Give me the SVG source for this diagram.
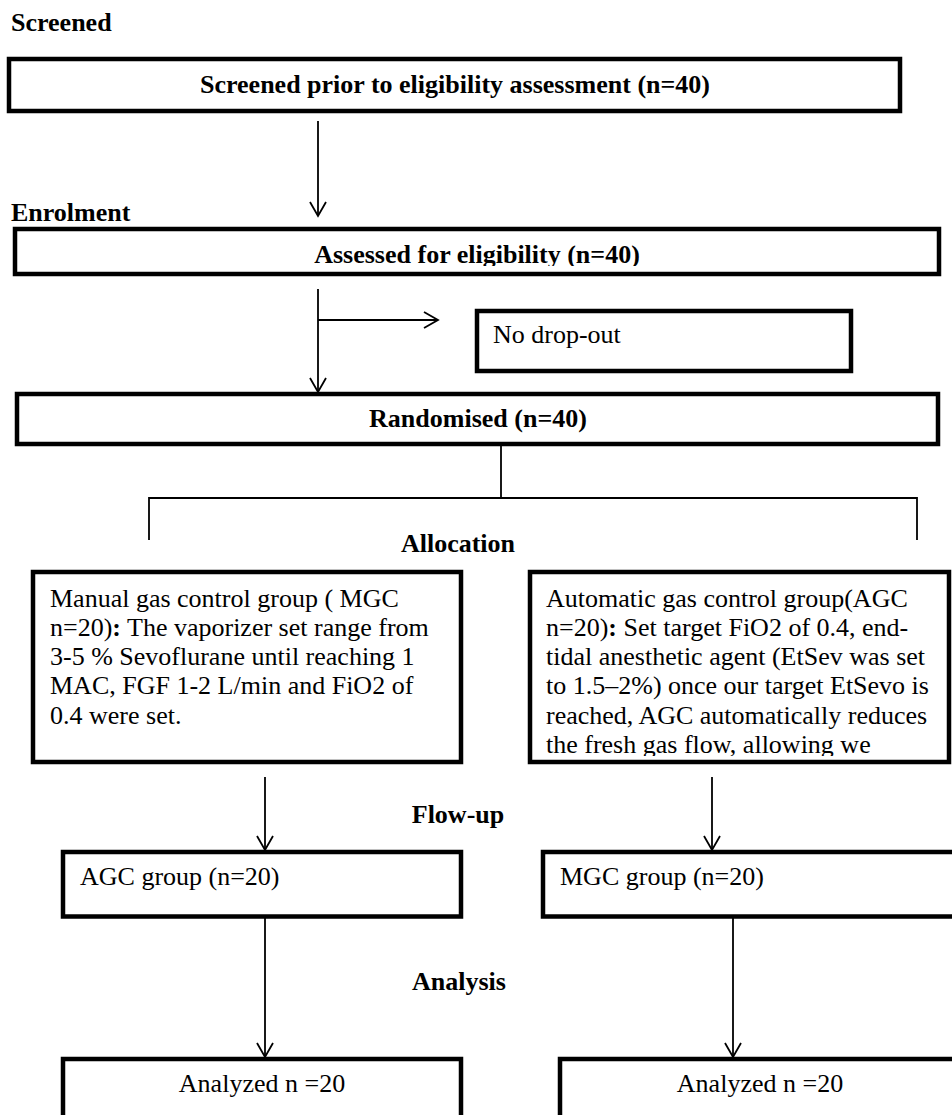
<svg xmlns="http://www.w3.org/2000/svg" width="952" height="1115" viewBox="0 0 952 1115">
<defs>
<style>
.box{fill:#fff;stroke:#000;stroke-width:4.5}
.ln{fill:none;stroke:#000;stroke-width:1.8}
.t{font-family:"Liberation Serif","Times New Roman",serif;font-size:26px;fill:#000}
.b{font-weight:bold}
.c{text-anchor:middle}
</style>
<marker id="ah" markerUnits="userSpaceOnUse" markerWidth="18" markerHeight="20" refX="15" refY="9" orient="auto">
<path d="M1,1 L15,9 L1,17" fill="none" stroke="#000" stroke-width="1.8"/>
</marker>
<clipPath id="clip2"><rect x="15" y="231" width="922" height="35"/></clipPath>
<clipPath id="clipR"><rect x="532" y="574" width="415" height="182"/></clipPath>
</defs>
<rect width="952" height="1115" fill="#fff"/>

<g id="labels">
<text class="t b" x="11" y="31">Screened</text>
<text class="t b" x="11" y="221">Enrolment</text>
<text class="t b c" x="458" y="552">Allocation</text>
<text class="t b c" x="458" y="823">Flow-up</text>
<text class="t b c" x="459" y="990">Analysis</text>
</g>

<g id="connectors">
<line class="ln" x1="318" y1="121" x2="318" y2="216" marker-end="url(#ah)"/>
<line class="ln" x1="318" y1="289" x2="318" y2="392" marker-end="url(#ah)"/>
<line class="ln" x1="318" y1="320" x2="438" y2="320" marker-end="url(#ah)"/>
<line class="ln" x1="501" y1="446" x2="501" y2="498"/>
<polyline class="ln" points="149,540 149,498 917,498 917,540"/>
<line class="ln" x1="265" y1="777" x2="265" y2="850" marker-end="url(#ah)"/>
<line class="ln" x1="712" y1="777" x2="712" y2="850" marker-end="url(#ah)"/>
<line class="ln" x1="265" y1="918" x2="265" y2="1057" marker-end="url(#ah)"/>
<line class="ln" x1="733" y1="918" x2="733" y2="1057" marker-end="url(#ah)"/>
</g>

<g id="screened">
<rect class="box" x="9" y="59" width="891" height="52"/>
<text class="t b c" x="455" y="93">Screened prior to eligibility assessment (n=40)</text>
</g>

<g id="assessed">
<rect class="box" x="15" y="229" width="924" height="45"/>
<text class="t b c" x="477" y="263" clip-path="url(#clip2)">Assessed for eligibility (n=40)</text>
</g>

<g id="dropout">
<rect class="box" x="477" y="311" width="374" height="60"/>
<text class="t" x="493" y="343">No drop-out</text>
</g>

<g id="randomised">
<rect class="box" x="17" y="394" width="921" height="50"/>
<text class="t b c" x="478" y="427">Randomised (n=40)</text>
</g>

<g id="mgc-alloc">
<rect class="box" x="33" y="572" width="428" height="190"/>
<text class="t" x="50" y="606.5">Manual gas control group ( MGC</text>
<text class="t" x="50" y="635.8">n=20)<tspan class="b">:</tspan> The vaporizer set range from</text>
<text class="t" x="50" y="665.1">3-5 % Sevoflurane until reaching 1</text>
<text class="t" x="50" y="694.4">MAC, FGF 1-2 L/min and FiO2 of</text>
<text class="t" x="50" y="723.7">0.4 were set.</text>
</g>

<g id="agc-alloc">
<rect class="box" x="530" y="572" width="419" height="190"/>
<g clip-path="url(#clipR)">
<text class="t" x="546" y="606.5">Automatic gas control group(AGC</text>
<text class="t" x="546" y="635.8">n=20)<tspan class="b">:</tspan> Set target FiO2 of 0.4, end-</text>
<text class="t" x="546" y="665.1">tidal anesthetic agent (EtSev was set</text>
<text class="t" x="546" y="694.4">to 1.5–2%) once our target EtSevo is</text>
<text class="t" x="546" y="723.7">reached, AGC automatically reduces</text>
<text class="t" x="546" y="753">the fresh gas flow, allowing we</text>
</g>
</g>

<g id="agc-follow">
<rect class="box" x="63" y="852" width="398" height="64.5"/>
<text class="t" x="80" y="885">AGC group (n=20)</text>
</g>

<g id="mgc-follow">
<rect class="box" x="543" y="852" width="420" height="64.5"/>
<text class="t" x="560" y="885">MGC group (n=20)</text>
</g>

<g id="analyzed-left">
<rect class="box" x="63" y="1059" width="398" height="80"/>
<text class="t c" x="262" y="1092">Analyzed n =20</text>
</g>

<g id="analyzed-right">
<rect class="box" x="560" y="1059" width="420" height="80"/>
<text class="t c" x="760" y="1092">Analyzed n =20</text>
</g>
</svg>
